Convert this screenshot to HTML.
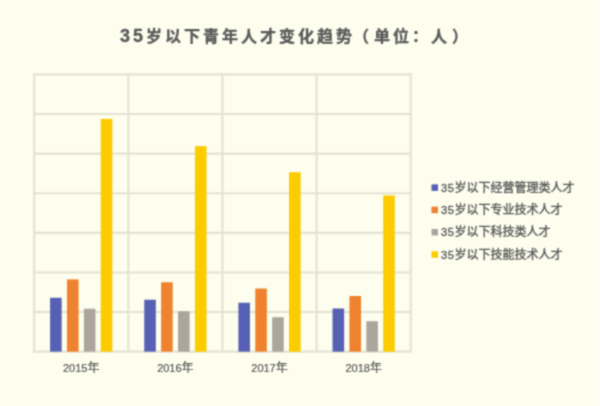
<!DOCTYPE html>
<html><head><meta charset="utf-8"><style>
html,body{margin:0;padding:0;background:#FDFEEE;}
svg{display:block;}
text{font-family:"Liberation Sans","Noto Sans CJK SC",sans-serif;fill:#595959;}
.tt{font-size:16px;font-weight:bold;letter-spacing:3px;stroke:#595959;stroke-width:0.3px;}
.lg{font-size:12px;stroke:#595959;stroke-width:0.35px;}
.xl{font-size:11px;stroke:#595959;stroke-width:0.2px;}
</style></head><body>
<svg width="600" height="406" viewBox="0 0 600 406">
<defs><filter id="f" x="0" y="0" width="1" height="1" color-interpolation-filters="sRGB"><feConvolveMatrix order="3" kernelMatrix="0.04387 0.12171 0.04387 0.12171 0.33767 0.12171 0.04387 0.12171 0.04387" edgeMode="duplicate"/></filter></defs>
<g filter="url(#f)">
<rect width="600" height="406" fill="#FDFEEE"/>
<rect x="597.5" y="0" width="2.5" height="406" fill="#FEFEF6"/>
<line x1="34.15" y1="74.4" x2="34.15" y2="351.67" stroke="#E4E2D3" stroke-width="2.1"/>
<line x1="128.30" y1="74.4" x2="128.30" y2="351.67" stroke="#E4E2D3" stroke-width="2.1"/>
<line x1="222.45" y1="74.4" x2="222.45" y2="351.67" stroke="#E4E2D3" stroke-width="2.1"/>
<line x1="316.60" y1="74.4" x2="316.60" y2="351.67" stroke="#E4E2D3" stroke-width="2.1"/>
<line x1="410.75" y1="74.4" x2="410.75" y2="351.67" stroke="#E4E2D3" stroke-width="2.1"/>
<line x1="33.10" y1="74.40" x2="411.80" y2="74.40" stroke="#E4E2D3" stroke-width="2.1"/>
<line x1="33.10" y1="114.01" x2="411.80" y2="114.01" stroke="#E4E2D3" stroke-width="2.1"/>
<line x1="33.10" y1="153.62" x2="411.80" y2="153.62" stroke="#E4E2D3" stroke-width="2.1"/>
<line x1="33.10" y1="193.23" x2="411.80" y2="193.23" stroke="#E4E2D3" stroke-width="2.1"/>
<line x1="33.10" y1="232.84" x2="411.80" y2="232.84" stroke="#E4E2D3" stroke-width="2.1"/>
<line x1="33.10" y1="272.45" x2="411.80" y2="272.45" stroke="#E4E2D3" stroke-width="2.1"/>
<line x1="33.10" y1="312.06" x2="411.80" y2="312.06" stroke="#E4E2D3" stroke-width="2.1"/>
<line x1="33.10" y1="351.67" x2="411.80" y2="351.67" stroke="#E4E2D3" stroke-width="2.1"/>
<rect x="50.07" y="297.75" width="11.6" height="53.92" fill="#5760B4"/>
<rect x="66.97" y="279.40" width="11.6" height="72.27" fill="#EE822E"/>
<rect x="83.88" y="308.75" width="11.6" height="42.92" fill="#ACA59D"/>
<rect x="100.77" y="118.90" width="11.6" height="232.77" fill="#FCCB00"/>
<rect x="144.23" y="299.75" width="11.6" height="51.92" fill="#5760B4"/>
<rect x="161.13" y="282.25" width="11.6" height="69.42" fill="#EE822E"/>
<rect x="178.03" y="311.25" width="11.6" height="40.42" fill="#ACA59D"/>
<rect x="194.93" y="146.10" width="11.6" height="205.57" fill="#FCCB00"/>
<rect x="238.37" y="302.75" width="11.6" height="48.92" fill="#5760B4"/>
<rect x="255.27" y="288.50" width="11.6" height="63.17" fill="#EE822E"/>
<rect x="272.17" y="317.25" width="11.6" height="34.42" fill="#ACA59D"/>
<rect x="289.07" y="172.30" width="11.6" height="179.37" fill="#FCCB00"/>
<rect x="332.53" y="308.50" width="11.6" height="43.17" fill="#5760B4"/>
<rect x="349.43" y="296.00" width="11.6" height="55.67" fill="#EE822E"/>
<rect x="366.33" y="321.25" width="11.6" height="30.42" fill="#ACA59D"/>
<rect x="383.23" y="195.50" width="11.6" height="156.17" fill="#FCCB00"/>
<text x="81.22" y="371.5" text-anchor="middle" class="xl">2015<tspan font-size="12">年</tspan></text>
<text x="175.38" y="371.5" text-anchor="middle" class="xl">2016<tspan font-size="12">年</tspan></text>
<text x="269.53" y="371.5" text-anchor="middle" class="xl">2017<tspan font-size="12">年</tspan></text>
<text x="363.68" y="371.5" text-anchor="middle" class="xl">2018<tspan font-size="12">年</tspan></text>
<rect x="431.5" y="184.35" width="6.5" height="6.5" fill="#5760B4"/>
<text x="441" y="191.60" class="lg"><tspan font-size="11" letter-spacing="0.6">35</tspan>岁以下经营管理类人才</text>
<rect x="431.5" y="206.65" width="6.5" height="6.5" fill="#EE822E"/>
<text x="441" y="213.90" class="lg"><tspan font-size="11" letter-spacing="0.6">35</tspan>岁以下专业技术人才</text>
<rect x="431.5" y="228.95" width="6.5" height="6.5" fill="#ACA59D"/>
<text x="441" y="236.20" class="lg"><tspan font-size="11" letter-spacing="0.6">35</tspan>岁以下科技类人才</text>
<rect x="431.5" y="251.25" width="6.5" height="6.5" fill="#FCCB00"/>
<text x="441" y="258.50" class="lg"><tspan font-size="11" letter-spacing="0.6">35</tspan>岁以下技能技术人才</text>
<text x="120" y="41.5" class="tt"><tspan font-size="18">35</tspan>岁以下青年人才变化趋势<tspan dx="-2">（</tspan><tspan dx="2">单</tspan>位：人<tspan dx="2">）</tspan></text>
</g>
</svg>
</body></html>
